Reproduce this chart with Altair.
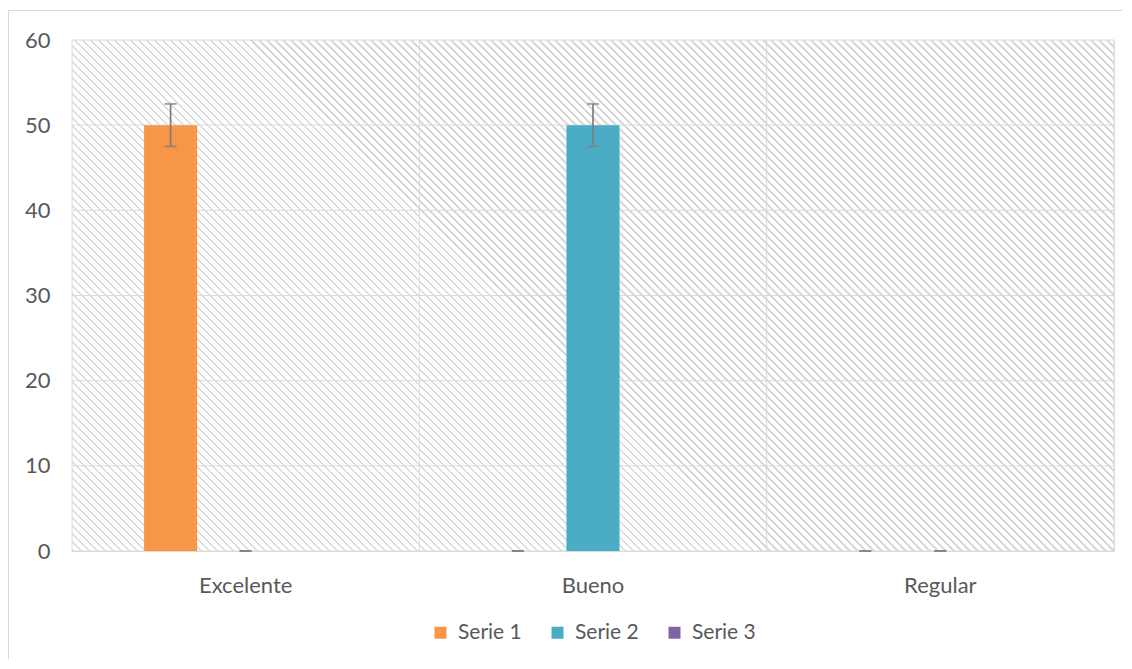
import altair as alt
import pandas as pd

# ---- data ----
categories = ["Excelente", "Bueno", "Regular"]
series = ["Serie 1", "Serie 2", "Serie 3"]
serie1 = [50, 0, 0]
serie2 = [0, 50, 0]
serie3 = [0, 0, 0]
err_serie1 = [2.5, 0, 0]
err_serie2 = [0, 2.5, 0]
y_ticks = [0, 10, 20, 30, 40, 50, 60]
colors = ["#F79646", "#4BACC6", "#8064A2"]

# ---- tables ----
rows = []
for s, vals in zip(series, [serie1, serie2, serie3]):
    for c, v in zip(categories, vals):
        rows.append({"categoria": c, "serie": s, "valor": v})
bars_df = pd.DataFrame(rows)

erows = []
for s, vals, errs in [("Serie 1", serie1, err_serie1), ("Serie 2", serie2, err_serie2)]:
    for c, v, e in zip(categories, vals, errs):
        erows.append({"categoria": c, "serie": s, "lo": v - e, "hi": v + e})
err_df = pd.DataFrame(erows)

grid_df = pd.DataFrame({"v": y_ticks})
cat_df = pd.DataFrame({"categoria": categories})

W, H = 1042, 511
FONT = "Lato"
FS = 22
GRID = "#d9d9d9"

# ---- hatch background via striped linear gradient ----
r = H / W
k = (1 + r) / (1 + r * r)
n = round((W + H) / 8)
f = 0.32
HATCH = "#d9d9d9"
stops = []
for i in range(n):
    a = i / n
    b = (i + f) / n
    c = (i + 1) / n
    stops += [
        alt.GradientStop(offset=a, color=HATCH),
        alt.GradientStop(offset=b, color=HATCH),
        alt.GradientStop(offset=b, color="#ffffff"),
        alt.GradientStop(offset=c, color="#ffffff"),
    ]
hatch = alt.Gradient(gradient="linear", stops=stops, x1=0, y1=1, x2=k, y2=1 - k * r)

x_scale = alt.Scale(domain=categories, paddingInner=0, paddingOuter=0)
xo_scale = alt.Scale(domain=series, paddingInner=0.293, paddingOuter=0.96)
y_scale = alt.Scale(domain=[0, 60], nice=False)

bg = alt.Chart(pd.DataFrame({"a": [0]})).mark_rect(fill=hatch, strokeWidth=0).encode(
    x=alt.value(0), x2=alt.value(W), y=alt.value(0), y2=alt.value(H)
)

hgrid = alt.Chart(grid_df).mark_rule(color=GRID, strokeWidth=1).encode(
    y=alt.Y("v:Q", scale=y_scale)
)

vgrid = alt.Chart(cat_df).mark_rule(color=GRID, strokeWidth=1).encode(
    x=alt.X("categoria:N", scale=x_scale, bandPosition=0)
)
vright = alt.Chart(pd.DataFrame({"a": [0]})).mark_rule(color=GRID, strokeWidth=1).encode(
    x=alt.value(W)
)

bars = alt.Chart(bars_df).mark_bar(strokeWidth=0).encode(
    x=alt.X("categoria:N", scale=x_scale, sort=categories,
            axis=alt.Axis(title=None, labelAngle=0, labelAlign="center", labelBaseline="top",
                          domain=False, ticks=False, bandPosition=0.5,
                          labelPadding=24, labelFontSize=FS, labelColor="#595959",
                          labelFont=FONT, grid=False)),
    xOffset=alt.XOffset("serie:N", scale=xo_scale, sort=series),
    y=alt.Y("valor:Q", scale=y_scale,
            axis=alt.Axis(title=None, values=y_ticks, domain=False, ticks=False, grid=False,
                          labelPadding=22, labelFontSize=FS, labelColor="#595959",
                          labelFont=FONT)),
    color=alt.Color("serie:N", scale=alt.Scale(domain=series, range=colors),
                    legend=alt.Legend(orient="none", legendX=358, legendY=582,
                                      direction="horizontal", title=None,
                                      symbolType="square", symbolSize=144,
                                      symbolStrokeWidth=0, labelFontSize=FS - 1,
                                      labelColor="#595959", labelFont=FONT,
                                      columnPadding=25, labelOffset=7)),
)

err_rule = alt.Chart(err_df).mark_rule(color="#7f7f7f", strokeWidth=1.75).encode(
    x=alt.X("categoria:N", scale=x_scale),
    xOffset=alt.XOffset("serie:N", scale=xo_scale),
    y=alt.Y("lo:Q", scale=y_scale),
    y2="hi:Q",
)
cap_lo = alt.Chart(err_df).mark_tick(color="#7f7f7f", size=12, thickness=2, orient="horizontal").encode(
    x=alt.X("categoria:N", scale=x_scale),
    xOffset=alt.XOffset("serie:N", scale=xo_scale),
    y=alt.Y("lo:Q", scale=y_scale),
)
cap_hi = alt.Chart(err_df).mark_tick(color="#7f7f7f", size=12, thickness=2, orient="horizontal").encode(
    x=alt.X("categoria:N", scale=x_scale),
    xOffset=alt.XOffset("serie:N", scale=xo_scale),
    y=alt.Y("hi:Q", scale=y_scale),
)

border_left = alt.Chart(pd.DataFrame({"a": [0]})).mark_rule(color=GRID, strokeWidth=1).encode(
    x=alt.value(-63.5), y=alt.value(-30), y2=alt.value(H + 110)
)
border_top = alt.Chart(pd.DataFrame({"a": [0]})).mark_rule(color=GRID, strokeWidth=1).encode(
    x=alt.value(-64), x2=alt.value(W + 20), y=alt.value(-29.5)
)

chart = alt.layer(
    bg, hgrid, vgrid, vright, bars, err_rule, cap_lo, cap_hi, border_left, border_top
).properties(
    width=W, height=H,
    autosize=alt.AutoSizeParams(type="none"),
    padding={"left": 64, "top": 32, "right": 8, "bottom": 108},
).configure_view(stroke=None).configure(background="white")

chart.save("out.html", embed_options={"renderer": "svg", "actions": False})
